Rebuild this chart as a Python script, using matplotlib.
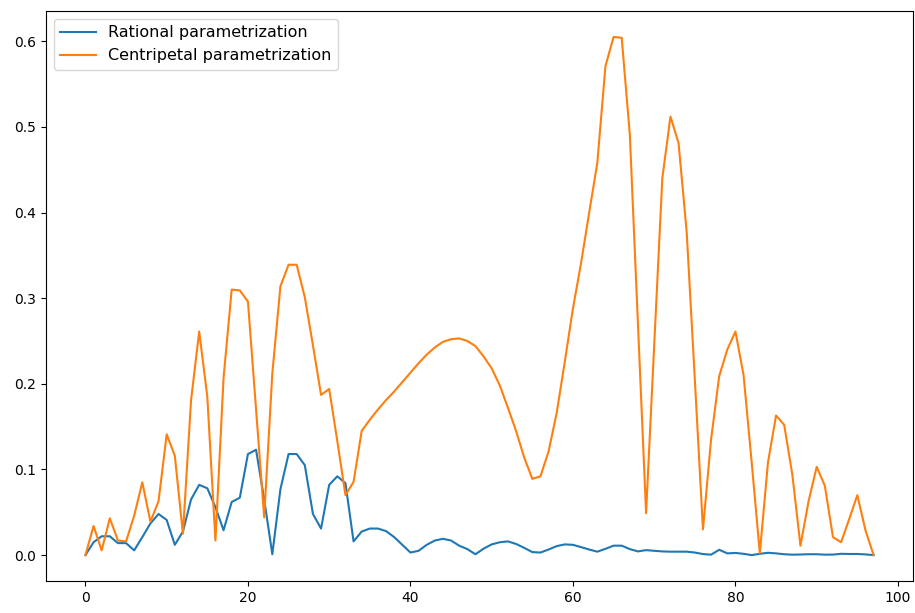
import numpy as np
import matplotlib
matplotlib.use("Agg")
import matplotlib.pyplot as plt

# error per sample for the two parametrizations
rational = [0.0, 0.015, 0.022, 0.022, 0.014, 0.014, 0.0055, 0.021, 0.037, 0.048,
            0.041, 0.012, 0.0275, 0.065, 0.082, 0.078, 0.056, 0.029, 0.062, 0.067,
            0.118, 0.123, 0.065, 0.001, 0.077, 0.118, 0.118, 0.105, 0.048, 0.031,
            0.082, 0.092, 0.084, 0.016, 0.0275, 0.031, 0.031, 0.028, 0.021, 0.012,
            0.003, 0.005, 0.012, 0.017, 0.019, 0.017, 0.011, 0.007, 0.001, 0.0075,
            0.0125, 0.015, 0.016, 0.013, 0.0085, 0.0035, 0.003, 0.0065, 0.0105, 0.0125,
            0.012, 0.0093, 0.0065, 0.0040, 0.0073, 0.011, 0.011, 0.007, 0.0043, 0.0058,
            0.005, 0.0043, 0.004, 0.004, 0.004, 0.003, 0.0012, 0.0005, 0.0062, 0.002,
            0.0025, 0.0015, 0.0, 0.0015, 0.0027, 0.002, 0.001, 0.0005, 0.0007, 0.001,
            0.001, 0.0005, 0.0006, 0.0015, 0.0013, 0.0013, 0.0008, 0.0]

centripetal = [0.0, 0.034, 0.0055, 0.043, 0.017, 0.016, 0.046, 0.085, 0.039, 0.063,
               0.141, 0.116, 0.025, 0.181, 0.261, 0.185, 0.017, 0.207, 0.310, 0.309,
               0.296, 0.170, 0.044, 0.212, 0.314, 0.339, 0.339, 0.301, 0.245, 0.187,
               0.194, 0.133, 0.070, 0.0855, 0.145, 0.158, 0.170, 0.181, 0.191, 0.202,
               0.213, 0.224, 0.234, 0.2425, 0.249, 0.252, 0.253, 0.250, 0.244, 0.232,
               0.218, 0.198, 0.172, 0.145, 0.114, 0.089, 0.092, 0.121, 0.166, 0.226,
               0.288, 0.341, 0.400, 0.458, 0.571, 0.605, 0.604, 0.491, 0.270, 0.049,
               0.245, 0.440, 0.512, 0.481, 0.377, 0.205, 0.030, 0.135, 0.209, 0.240,
               0.261, 0.210, 0.108, 0.0023, 0.108, 0.163, 0.152, 0.094, 0.011, 0.063,
               0.103, 0.081, 0.021, 0.015, 0.042, 0.070, 0.029, 0.0]

fig = plt.figure(figsize=(9.15, 6.13), dpi=100)
ax = fig.add_subplot(111)
fig.subplots_adjust(left=0.0503, right=0.9978, top=0.982, bottom=0.0522)

ax.plot(rational, label='Rational parametrization')
ax.plot(centripetal, label='Centripetal parametrization')
ax.legend(loc='upper left', fontsize=11.5, handlelength=2.2)

fig.savefig('out.png', dpi=100)
